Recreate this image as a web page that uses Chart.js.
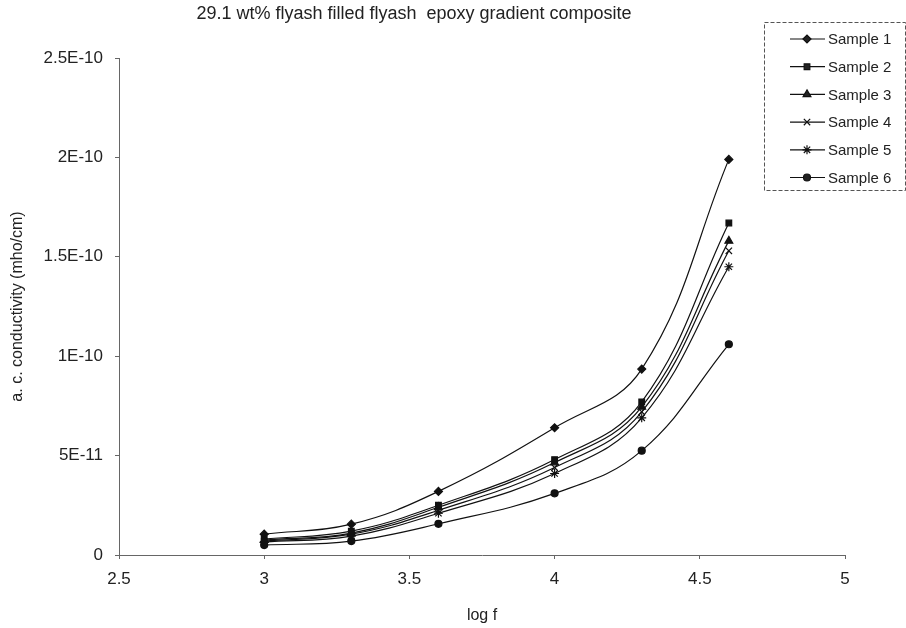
<!DOCTYPE html>
<html>
<head>
<meta charset="utf-8">
<script src="https://cdn.jsdelivr.net/npm/chart.js@4"></script>
<style>
  html, body { margin: 0; padding: 0; background: #fff; }
  #wrap { width: 906px; height: 628px; position: relative; }
</style>
</head>
<body>
<div id="wrap"><canvas id="chart"></canvas></div>
<script>
// 数据：log f 对应各样品的交流电导率
const logF = [3, 3.3, 3.6, 4, 4.3, 4.6];
const sample1 = [1.05e-11, 1.55e-11, 3.2e-11, 6.4e-11, 9.35e-11, 1.99e-10];
const sample2 = [8.0e-12, 1.2e-11, 2.5e-11, 4.8e-11, 7.7e-11, 1.67e-10];
const sample3 = [7.5e-12, 1.1e-11, 2.4e-11, 4.65e-11, 7.45e-11, 1.58e-10];
const sample4 = [7.0e-12, 1.05e-11, 2.25e-11, 4.4e-11, 7.2e-11, 1.53e-10];
const sample5 = [6.5e-12, 9.5e-12, 2.1e-11, 4.1e-11, 6.9e-11, 1.45e-10];
const sample6 = [5.0e-12, 7.0e-12, 1.57e-11, 3.1e-11, 5.25e-11, 1.06e-10];

const seriesNames = ['Sample 1', 'Sample 2', 'Sample 3', 'Sample 4', 'Sample 5', 'Sample 6'];
const seriesValues = [sample1, sample2, sample3, sample4, sample5, sample6];
const markerStyles = ['rectRot', 'rect', 'triangle', 'crossRot', 'star', 'circle'];
const markerSizes = [4, 4, 4.5, 4.5, 4.5, 3.5];

const xTickLabels = ['2.5', '3', '3.5', '4', '4.5', '5'];
const yTickLabels = ['0', '5E-11', '1E-10', '1.5E-10', '2E-10', '2.5E-10'];

const titleText = '29.1 wt% flyash filled flyash  epoxy gradient composite';
const FONT = 'Arial, "Liberation Sans", sans-serif';

const datasets = seriesNames.map((name, i) => ({
  label: name,
  data: logF.map((x, j) => ({ x, y: seriesValues[i][j] })),
  borderColor: '#111',
  backgroundColor: '#111',
  borderWidth: 1.2,
  tension: 0.4,
  fill: false,
  pointStyle: markerStyles[i],
  pointRadius: markerSizes[i],
  pointBorderWidth: 1.2,
  pointBackgroundColor: '#111',
}));

// 标题与图例用插件自己画（位置对齐原图）
const decorPlugin = {
  id: 'decor',
  afterDraw(chart) {
    const ctx = chart.ctx;
    ctx.save();
    ctx.fillStyle = '#222';
    ctx.font = '18px ' + FONT;
    ctx.textAlign = 'center';
    ctx.textBaseline = 'middle';
    ctx.fillText(titleText, 414, 14);

    // 图例框
    const bx = 764, by = 22, bw = 141, bh = 168;
    ctx.strokeStyle = '#555';
    ctx.lineWidth = 1;
    ctx.setLineDash([4, 2]);
    ctx.strokeRect(bx + 0.5, by + 0.5, bw, bh);
    ctx.setLineDash([]);

    chart.data.datasets.forEach((ds, i) => {
      const y = 39 + i * 27.7;
      ctx.strokeStyle = '#111';
      ctx.lineWidth = 1.2;
      ctx.beginPath();
      ctx.moveTo(790, y);
      ctx.lineTo(825, y);
      ctx.stroke();
      Chart.helpers.drawPoint(ctx, {
        pointStyle: ds.pointStyle,
        radius: ds.pointRadius,
        borderWidth: 1.2,
      }, 807, y);
      ctx.fillStyle = '#222';
      ctx.font = '15px ' + FONT;
      ctx.textAlign = 'left';
      ctx.fillText(ds.label, 828, y + 1);
    });
    ctx.restore();
  },
};

new Chart(document.getElementById('chart'), {
  type: 'line',
  data: { datasets },
  options: {
    responsive: true,
    maintainAspectRatio: false,
    animation: false,
    layout: { padding: { top: 58, right: 61, left: 0, bottom: 0 } },
    plugins: {
      legend: { display: false },
      title: { display: false },
      tooltip: { enabled: false },
    },
    scales: {
      x: {
        type: 'linear',
        min: 2.5,
        max: 5,
        ticks: {
          stepSize: 0.5,
          color: '#222',
          font: { family: FONT, size: 17 },
          padding: 10,
          callback: (v, i) => xTickLabels[i],
        },
        grid: { display: true, drawOnChartArea: false, drawTicks: true, tickLength: 4, color: '#666' },
        border: { color: '#666', width: 1 },
        title: {
          display: true,
          text: 'log f',
          color: '#222',
          font: { family: FONT, size: 16 },
          padding: { top: 0, bottom: 3 },
        },
        afterFit: s => { s.height = 73; },
      },
      y: {
        min: 0,
        max: 2.5e-10,
        ticks: {
          stepSize: 5e-11,
          color: '#222',
          font: { family: FONT, size: 17 },
          padding: 12,
          callback: (v, i) => yTickLabels[i],
        },
        grid: { display: true, drawOnChartArea: false, drawTicks: true, tickLength: 4, color: '#666' },
        border: { color: '#666', width: 1 },
        title: {
          display: true,
          text: 'a. c. conductivity (mho/cm)',
          color: '#222',
          font: { family: FONT, size: 16 },
          padding: { top: 8, bottom: 0 },
        },
        afterFit: s => { s.width = 119; },
      },
    },
  },
  plugins: [decorPlugin],
});
</script>
</body>
</html>
